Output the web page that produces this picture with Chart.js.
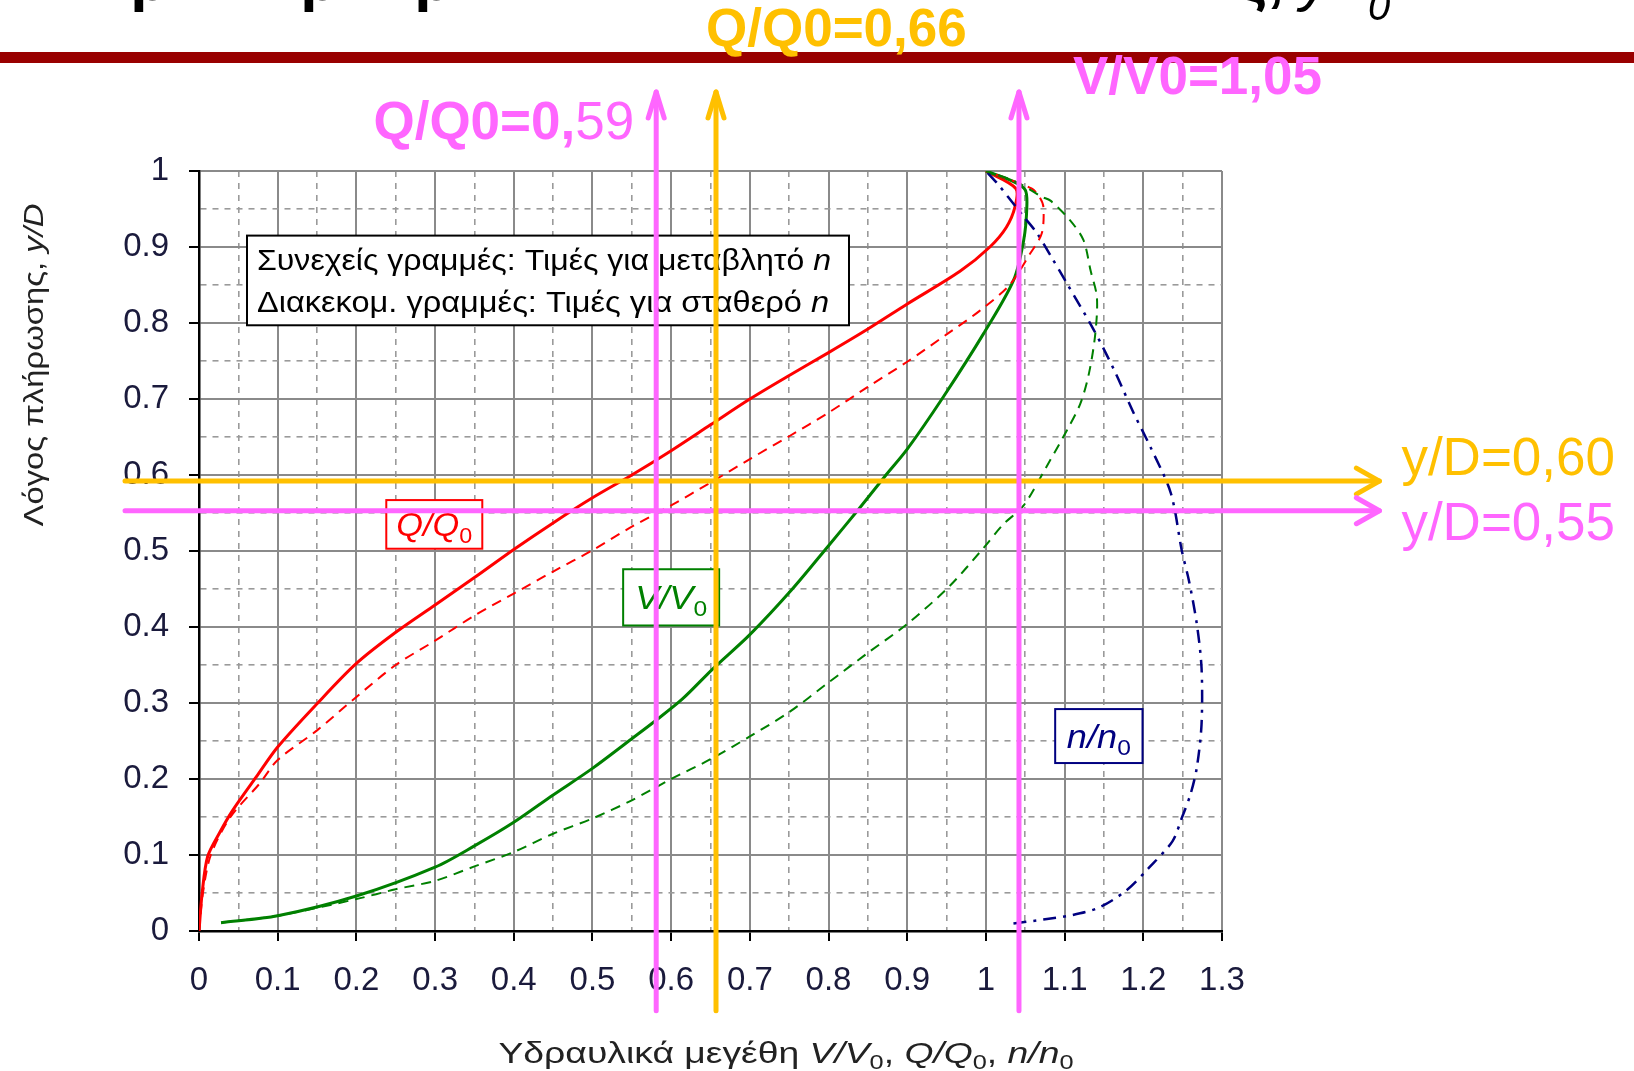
<!DOCTYPE html>
<html>
<head>
<meta charset="utf-8">
<script src="https://cdn.jsdelivr.net/npm/chart.js@4.4.1/dist/chart.umd.min.js"></script>
<style>
  html, body { margin: 0; padding: 0; background: #fff; }
  canvas { display: block; }
</style>
</head>
<body>
<canvas id="chart" width="1634" height="1071"></canvas>
<script>
// Q/Q0 - συνεχής γραμμή (μεταβλητό n)
const qVarX = [0, 0.004, 0.011, 0.026, 0.043, 0.073, 0.10, 0.15, 0.20, 0.25, 0.30, 0.35, 0.40, 0.45, 0.50, 0.55, 0.60, 0.65, 0.70, 0.75, 0.80, 0.85, 0.90, 0.967, 1.005, 1.026, 1.037, 1.038, 1.0];
const qVarY = [0, 0.05, 0.098, 0.129, 0.159, 0.203, 0.242, 0.299, 0.352, 0.393, 0.429, 0.465, 0.502, 0.537, 0.570, 0.600, 0.632, 0.666, 0.700, 0.731, 0.761, 0.792, 0.825, 0.868, 0.900, 0.926, 0.953, 0.977, 1.0];

// Q/Q0 - διακεκομμένη (σταθερό n)
const qConstX = [0, 0.005, 0.015, 0.04, 0.077, 0.10, 0.15, 0.20, 0.25, 0.30, 0.35, 0.40, 0.45, 0.50, 0.55, 0.60, 0.65, 0.70, 0.75, 0.80, 0.85, 0.90, 0.95, 0.992, 1.030, 1.056, 1.071, 1.073, 1.068, 1.058, 1.0];
const qConstY = [0, 0.05, 0.10, 0.15, 0.194, 0.225, 0.264, 0.308, 0.350, 0.382, 0.415, 0.444, 0.473, 0.501, 0.532, 0.560, 0.590, 0.621, 0.651, 0.682, 0.716, 0.749, 0.785, 0.816, 0.850, 0.891, 0.918, 0.953, 0.966, 0.977, 1.0];

// V/V0 - συνεχής (μεταβλητό n)
const vVarX = [0.028, 0.10, 0.20, 0.30, 0.35, 0.40, 0.45, 0.50, 0.55, 0.578, 0.614, 0.653, 0.70, 0.754, 0.80, 0.839, 0.873, 0.90, 0.946, 0.997, 1.035, 1.048, 1.052, 1.05, 1.035, 1.0];
const vVarY = [0.011, 0.02, 0.046, 0.084, 0.112, 0.143, 0.179, 0.214, 0.253, 0.275, 0.305, 0.345, 0.390, 0.450, 0.507, 0.556, 0.600, 0.634, 0.703, 0.786, 0.856, 0.909, 0.953, 0.975, 0.986, 1.0];

// V/V0 - διακεκομμένη (σταθερό n)
const vConstX = [0.028, 0.10, 0.20, 0.25, 0.30, 0.35, 0.40, 0.45, 0.50, 0.55, 0.60, 0.65, 0.70, 0.75, 0.80, 0.85, 0.90, 0.953, 0.997, 1.022, 1.048, 1.077, 1.103, 1.12, 1.131, 1.139, 1.141, 1.133, 1.124, 1.107, 1.082, 1.071, 1.04, 1.0];
const vConstY = [0.011, 0.02, 0.042, 0.055, 0.066, 0.085, 0.104, 0.128, 0.148, 0.172, 0.200, 0.226, 0.256, 0.288, 0.327, 0.366, 0.404, 0.453, 0.504, 0.535, 0.560, 0.611, 0.659, 0.694, 0.734, 0.786, 0.834, 0.869, 0.909, 0.935, 0.961, 0.966, 0.985, 1.0];

// n/n0
const nX = [1.035, 1.073, 1.11, 1.144, 1.178, 1.207, 1.237, 1.249, 1.26, 1.268, 1.274, 1.274, 1.268, 1.258, 1.249, 1.235, 1.209, 1.188, 1.163, 1.137, 1.103, 1.082, 1.065, 1.048, 1.028, 1.015, 1.0];
const nY = [0.010, 0.015, 0.021, 0.031, 0.053, 0.083, 0.118, 0.149, 0.180, 0.215, 0.272, 0.346, 0.404, 0.461, 0.500, 0.576, 0.637, 0.681, 0.738, 0.791, 0.852, 0.889, 0.918, 0.940, 0.966, 0.983, 1.0];

// βοηθητικές γραμμές (κάθετες σε x, οριζόντιες σε y)
const guideX = [0.581, 0.657, 1.042];
const guideY = [0.592, 0.553];

const FONT = '"Liberation Sans", Arial, Helvetica, sans-serif';
const MAGENTA = '#FF66FF';
const GOLD = '#FFC000';

const toPoints = (xs, ys) => xs.map((x, i) => ({ x: x, y: ys[i] }));
const isMajor = v => Math.abs(v * 10 - Math.round(v * 10)) < 1e-6;

function lineSet(label, xs, ys, color, width, dash) {
    return {
        label: label,
        data: toPoints(xs, ys),
        borderColor: color,
        borderWidth: width,
        borderDash: dash,
        pointRadius: 0,
        showLine: true,
        tension: 0.3,
        fill: false
    };
}

// κείμενο με πλάγια / δείκτες, προαιρετικά τεντωμένο σε πλάτος
function richText(ctx, parts, x, y, size, color, align, width) {
    const fontOf = p => {
        const s = p.sub ? size * 0.68 : size;
        return (p.it ? 'italic ' : '') + (p.b ? 'bold ' : '') + s + 'px ' + FONT;
    };
    let total = 0;
    parts.forEach(p => { ctx.font = fontOf(p); total += ctx.measureText(p.t).width; });
    const k = width ? width / total : 1;
    const w = total * k;
    const start = align === 'center' ? x - w / 2 : (align === 'right' ? x - w : x);
    ctx.save();
    ctx.translate(start, y);
    ctx.scale(k, 1);
    ctx.fillStyle = color;
    ctx.textAlign = 'left';
    ctx.textBaseline = 'alphabetic';
    let cx = 0;
    parts.forEach(p => {
        ctx.font = fontOf(p);
        ctx.fillText(p.t, cx, p.sub ? size * 0.2 : 0);
        cx += ctx.measureText(p.t).width;
    });
    ctx.restore();
    return w;
}

function labelBox(ctx, sx, sy, x0, x1, y0, y1, color, parts, size, width) {
    const l = sx.getPixelForValue(x0), r = sx.getPixelForValue(x1);
    const t = sy.getPixelForValue(y1), b = sy.getPixelForValue(y0);
    ctx.fillStyle = '#fff';
    ctx.fillRect(l, t, r - l, b - t);
    ctx.strokeStyle = color;
    ctx.lineWidth = 2;
    ctx.strokeRect(l, t, r - l, b - t);
    richText(ctx, parts, (l + r) / 2, (t + b) / 2 + size * 0.36, size, color, 'center', width);
}

function arrowHead(ctx, x, y, dir, len, half) {
    ctx.beginPath();
    if (dir === 'up') {
        ctx.moveTo(x - half, y + len); ctx.lineTo(x, y); ctx.lineTo(x + half, y + len);
    } else {
        ctx.moveTo(x - len, y - half); ctx.lineTo(x, y); ctx.lineTo(x - len, y + half);
    }
    ctx.stroke();
}

const overlay = {
    id: 'overlay',
    beforeDraw(chart) {
        const ctx = chart.ctx;
        ctx.save();
        ctx.fillStyle = '#fff';
        ctx.fillRect(0, 0, chart.width, chart.height);
        // τίτλος διαφάνειας: φαίνεται μόνο το κάτω μέρος
        ctx.fillStyle = '#000';
        ctx.textBaseline = 'alphabetic';
        ctx.font = 'bold 60px ' + FONT;
        ctx.fillText('ρ', 131, 0);
        ctx.fillText('ρ', 301, 0);
        ctx.fillText('ρ', 415, 0);
        ctx.fillText('ς,', 1236, 0);
        ctx.font = 'italic 60px ' + FONT;
        ctx.fillText('y', 1300, 0);
        ctx.font = 'italic 40px ' + FONT;
        ctx.fillText('0', 1368, 20);
        // κόκκινη μπάρα
        ctx.fillStyle = '#990000';
        ctx.fillRect(0, 52, chart.width, 11);
        ctx.restore();
    },
    afterDatasetsDraw(chart) {
        const ctx = chart.ctx, sx = chart.scales.x, sy = chart.scales.y;
        ctx.save();
        // πλαίσιο υπομνήματος
        const l = sx.getPixelForValue(0.061), r = sx.getPixelForValue(0.826);
        const t = sy.getPixelForValue(0.915), b = sy.getPixelForValue(0.797);
        ctx.fillStyle = '#fff';
        ctx.fillRect(l, t, r - l, b - t);
        ctx.strokeStyle = '#000';
        ctx.lineWidth = 2;
        ctx.strokeRect(l, t, r - l, b - t);
        richText(ctx, [{ t: 'Συνεχείς γραμμές: Τιμές για μεταβλητό ' }, { t: 'n', it: true }], l + 10, t + 34, 29, '#000', 'left', r - l - 28);
        richText(ctx, [{ t: 'Διακεκομ. γραμμές: Τιμές για σταθερό ' }, { t: 'n', it: true }], l + 10, t + 76, 29, '#000', 'left', r - l - 30);

        labelBox(ctx, sx, sy, 0.238, 0.36, 0.503, 0.567, '#FF0000',
            [{ t: 'Q/Q', it: true }, { t: '0', sub: true }], 33, 76);
        labelBox(ctx, sx, sy, 0.539, 0.661, 0.402, 0.476, '#008000',
            [{ t: 'V/V', it: true }, { t: '0', sub: true }], 33, 72);
        labelBox(ctx, sx, sy, 1.088, 1.199, 0.221, 0.292, '#000080',
            [{ t: 'n/n', it: true }, { t: '0', sub: true }], 33, 64);

        // βοηθητικές γραμμές με βέλη
        ctx.lineWidth = 5;
        ctx.lineCap = 'round';
        ctx.lineJoin = 'round';
        const yTop = sy.getPixelForValue(1.104), yBot = sy.getPixelForValue(-0.105);
        const xLeft = sx.getPixelForValue(-0.094), xRight = sx.getPixelForValue(1.50);
        const vColors = [MAGENTA, GOLD, MAGENTA];
        const hColors = [GOLD, MAGENTA];
        guideY.forEach((v, i) => {
            const py = sy.getPixelForValue(v);
            ctx.strokeStyle = hColors[i];
            ctx.beginPath(); ctx.moveTo(xLeft, py); ctx.lineTo(xRight, py); ctx.stroke();
            arrowHead(ctx, xRight, py, 'right', 23, 13);
        });
        guideX.forEach((v, i) => {
            const px = sx.getPixelForValue(v);
            ctx.strokeStyle = vColors[i];
            ctx.beginPath(); ctx.moveTo(px, yBot); ctx.lineTo(px, yTop); ctx.stroke();
            arrowHead(ctx, px, yTop, 'up', 26, 8);
        });
        ctx.restore();
    },
    afterDraw(chart) {
        const ctx = chart.ctx, sx = chart.scales.x;
        ctx.save();
        // τίτλοι αξόνων
        richText(ctx, [
            { t: 'Υδραυλικά μεγέθη ' }, { t: 'V/V', it: true }, { t: '0', sub: true },
            { t: ', ' }, { t: 'Q/Q', it: true }, { t: '0', sub: true },
            { t: ', ' }, { t: 'n/n', it: true }, { t: '0', sub: true }
        ], 786, 1063, 29, '#222', 'center', 575);
        ctx.translate(43, 365);
        ctx.rotate(-Math.PI / 2);
        richText(ctx, [{ t: 'Λόγος πλήρωσης, ' }, { t: 'y/D', it: true }], 0, 0, 28, '#222', 'center', 323);
        ctx.restore();

        ctx.save();
        const px = v => sx.getPixelForValue(v);
        richText(ctx, [{ t: 'Q/Q0=0,66', b: true }], px(guideX[1]) - 10, 46, 53, GOLD, 'left');
        richText(ctx, [{ t: 'V/V0=1,05', b: true }], px(guideX[2]) + 54, 94, 53, MAGENTA, 'left');
        richText(ctx, [{ t: 'Q/Q0=0,', b: true }, { t: '59' }], px(guideX[0]) - 22, 139, 53, MAGENTA, 'right');
        richText(ctx, [{ t: 'y/D=0,60' }], px(1.50) + 22, 475, 53, GOLD, 'left');
        richText(ctx, [{ t: 'y/D=0,55' }], px(1.50) + 22, 540, 53, MAGENTA, 'left');
        ctx.restore();
    }
};

const gridOpts = {
    color: c => (c.tick && isMajor(c.tick.value)) ? '#8a8a8a' : '#9a9a9a',
    lineWidth: c => (c.tick && isMajor(c.tick.value)) ? 2 : 1.6,
    tickLength: 10,
    tickWidth: 2,
    tickColor: c => (c.tick && isMajor(c.tick.value)) ? '#000' : 'rgba(0,0,0,0)'
};
const borderOpts = {
    color: '#000',
    width: 2.5,
    dash: c => (c.tick && !isMajor(c.tick.value)) ? [6, 6] : []
};
const tickFont = { family: FONT, size: 33 };
const tickLabel = v => isMajor(v) ? String(Math.round(v * 10) / 10) : '';

new Chart(document.getElementById('chart'), {
    type: 'scatter',
    data: {
        datasets: [
            lineSet('V/V0 σταθερό n', vConstX, vConstY, '#008000', 2, [10, 7]),
            lineSet('Q/Q0 σταθερό n', qConstX, qConstY, '#FF0000', 2, [10, 7]),
            lineSet('n/n0', nX, nY, '#000080', 2.5, [13, 7, 3, 7]),
            lineSet('V/V0 μεταβλητό n', vVarX, vVarY, '#008000', 3, []),
            lineSet('Q/Q0 μεταβλητό n', qVarX, qVarY, '#FF0000', 3, [])
        ]
    },
    options: {
        responsive: false,
        animation: false,
        devicePixelRatio: 1,
        layout: { padding: { top: 171, right: 412, left: 0, bottom: 0 } },
        plugins: { legend: { display: false }, tooltip: { enabled: false } },
        scales: {
            x: {
                type: 'linear', min: 0, max: 1.3,
                ticks: { stepSize: 0.05, autoSkip: false, maxRotation: 0, font: tickFont, color: '#1a1a3c', padding: 20, callback: tickLabel },
                grid: gridOpts, border: borderOpts,
                afterFit: s => { s.height = 140; }
            },
            y: {
                type: 'linear', min: 0, max: 1,
                ticks: { stepSize: 0.05, autoSkip: false, font: tickFont, color: '#1a1a3c', padding: 20, callback: tickLabel },
                grid: gridOpts, border: borderOpts,
                afterFit: s => { s.width = 199; }
            }
        }
    },
    plugins: [overlay]
});
</script>
</body>
</html>
